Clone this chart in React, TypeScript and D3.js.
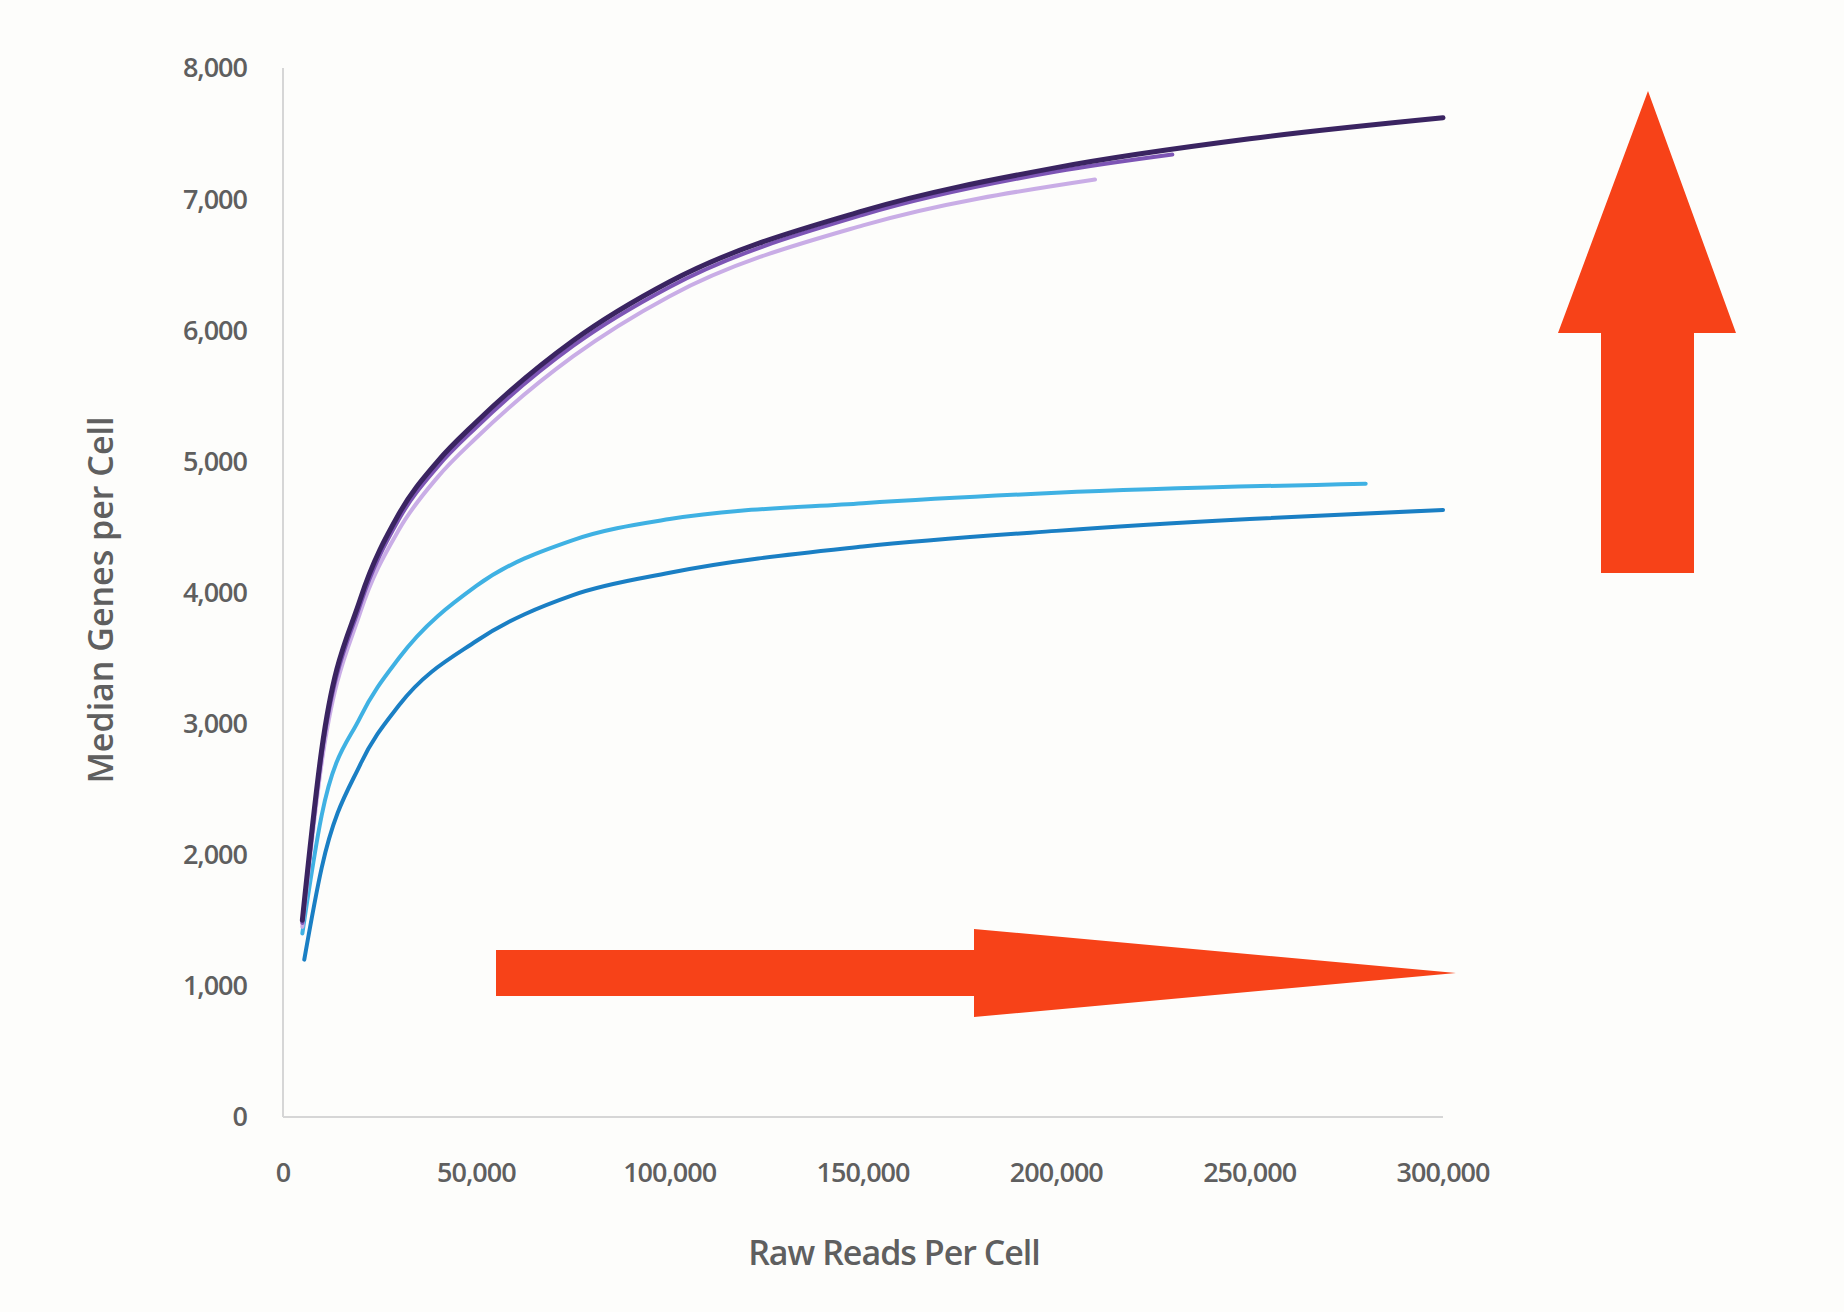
import React from "react";
import * as d3 from "d3";

const xTicks = [0, 50000, 100000, 150000, 200000, 250000, 300000];
const yTicks = [0, 1000, 2000, 3000, 4000, 5000, 6000, 7000, 8000];

const darkPurpleX = [5000, 10000, 20000, 30000, 40000, 50000, 75000, 100000, 150000, 200000, 250000, 300000];
const darkPurpleY = [1500, 2800, 3950, 4600, 5000, 5300, 5920, 6370, 6910, 7240, 7460, 7620];
const midPurpleX = [5000, 10000, 20000, 30000, 40000, 50000, 75000, 100000, 150000, 200000, 230000];
const midPurpleY = [1480, 2760, 3910, 4560, 4960, 5260, 5880, 6330, 6880, 7210, 7340];
const lightPurpleX = [5000, 10000, 20000, 30000, 40000, 50000, 75000, 100000, 150000, 210000];
const lightPurpleY = [1450, 2700, 3850, 4480, 4880, 5180, 5800, 6260, 6800, 7150];
const lightBlueX = [5000, 10000, 20000, 30000, 50000, 75000, 100000, 150000, 200000, 280000];
const lightBlueY = [1400, 2300, 3050, 3500, 4050, 4400, 4560, 4680, 4760, 4830];
const darkBlueX = [5500, 10000, 20000, 30000, 50000, 75000, 100000, 150000, 200000, 250000, 300000];
const darkBlueY = [1200, 1900, 2690, 3140, 3630, 3980, 4150, 4350, 4470, 4560, 4630];

const series = [
  { xs: lightBlueX, ys: lightBlueY, color: "#3fb1e3" },
  { xs: darkBlueX, ys: darkBlueY, color: "#1a7fc4" },
  { xs: lightPurpleX, ys: lightPurpleY, color: "#c9ade6" },
  { xs: midPurpleX, ys: midPurpleY, color: "#7d55b5" },
  { xs: darkPurpleX, ys: darkPurpleY, color: "#3a2461" },
];

export default function App() {
  const x = d3.scaleLinear().domain([0, 300000]).range([283, 1443]);
  const y = d3.scaleLinear().domain([0, 8000]).range([1117, 68]);
  const line = d3.line<[number, number]>().x((d) => x(d[0])).y((d) => y(d[1])).curve(d3.curveMonotoneX);
  const font = "'Open Sans', sans-serif";
  const grey = "#5f5f5f";
  const red = "#f74218";
  return (
    <svg width={1844} height={1312} style={{ position: "absolute", left: 0, top: 0, background: "#fdfdfb" }}>
      <rect width={1844} height={1312} fill="#fdfdfb" />
      <line x1={x(0)} x2={x(0)} y1={y(8000)} y2={y(0)} stroke="#d6d6d6" strokeWidth={2} />
      <line x1={x(0)} x2={x(300000)} y1={y(0)} y2={y(0)} stroke="#d6d6d6" strokeWidth={2} />
      {yTicks.map((t) => (
        <text key={t} x={247} y={y(t)} dy="0.35em" textAnchor="end" fontFamily={font} fontWeight={600} fontSize={27} letterSpacing={-1} fill={grey}>
          {d3.format(",")(t)}
        </text>
      ))}
      {xTicks.map((t) => (
        <text key={t} x={x(t)} y={1182} textAnchor="middle" fontFamily={font} fontWeight={600} fontSize={27} letterSpacing={-1} fill={grey}>
          {d3.format(",")(t)}
        </text>
      ))}
      <text x={894} y={1265} textAnchor="middle" fontFamily={font} fontWeight={600} fontSize={34} letterSpacing={-1} fill={grey}>Raw Reads Per Cell</text>
      <text transform="translate(113,600) rotate(-90)" textAnchor="middle" fontFamily={font} fontWeight={600} fontSize={34} fill={grey}>Median Genes per Cell</text>
      {series.map((s, i) => (
        <path key={i} d={line(s.xs.map((v, j) => [v, s.ys[j]]) as [number, number][]) || ""} fill="none" stroke={s.color} strokeWidth={i === 4 ? 5 : 4} strokeLinecap="round" />
      ))}
      <polygon points="496,950 974,950 974,929 1456,973 974,1017 974,996 496,996" fill={red} />
      <polygon points="1648,91 1736,333 1694,333 1694,573 1601,573 1601,333 1558,333" fill={red} />
    </svg>
  );
}
